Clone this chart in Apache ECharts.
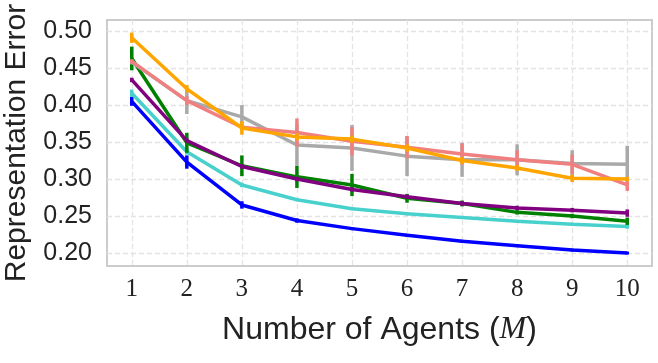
<!DOCTYPE html>
<html>
<head>
<meta charset="utf-8">
<script src="https://cdn.jsdelivr.net/npm/echarts@6/dist/echarts.min.js"></script>
<style>
html,body{margin:0;padding:0;background:#fff;}
#chart{width:658px;height:363px;}
</style>
</head>
<body>
<div id="chart"></div>
<script>
// ---- data ----
const agents = [1, 2, 3, 4, 5, 6, 7, 8, 9, 10];
const xTicks = [1, 2, 3, 4, 5, 6, 7, 8, 9, 10];
const yTicks = [0.20, 0.25, 0.30, 0.35, 0.40, 0.45, 0.50];

const blueVals   = [0.405, 0.323, 0.265, 0.244, 0.233, 0.224, 0.216, 0.210, 0.204, 0.200];
const blueErr    = [0.006, 0.009, 0.005, 0.003, 0.002, 0.002, 0.002, 0.002, 0.002, 0.002];
const turqVals   = [0.416, 0.337, 0.292, 0.272, 0.260, 0.253, 0.248, 0.243, 0.239, 0.236];
const turqErr    = [0.005, 0.004, 0.003, 0.002, 0.002, 0.002, 0.002, 0.002, 0.002, 0.003];
const greenVals  = [0.463, 0.349, 0.318, 0.303, 0.292, 0.274, 0.267, 0.255, 0.250, 0.243];
const greenErr   = [0.016, 0.0135, 0.014, 0.015, 0.015, 0.006, 0.004, 0.003, 0.003, 0.005];
const purpleVals = [0.434, 0.352, 0.317, 0.300, 0.286, 0.276, 0.267, 0.261, 0.258, 0.254];
const purpleErr  = [0.003, 0.003, 0.003, 0.003, 0.003, 0.003, 0.003, 0.003, 0.003, 0.005];
const grayVals   = [0.458, 0.406, 0.384, 0.346, 0.342, 0.331, 0.326, 0.326, 0.321, 0.320];
const grayErr    = [0.003, 0.018, 0.016, 0.028, 0.031, 0.027, 0.023, 0.021, 0.018, 0.025];
const coralVals  = [0.459, 0.406, 0.370, 0.363, 0.351, 0.343, 0.334, 0.326, 0.320, 0.292];
const coralErr   = [0.003, 0.006, 0.004, 0.019, 0.019, 0.015, 0.014, 0.013, 0.013, 0.008];
const orangeVals = [0.491, 0.422, 0.369, 0.357, 0.354, 0.342, 0.325, 0.315, 0.301, 0.300];
const orangeErr  = [0.007, 0.005, 0.009, 0.005, 0.005, 0.005, 0.005, 0.004, 0.005, 0.003];

const seriesDefs = [
  {name: 'blue',   color: '#0000FF', vals: blueVals,   err: blueErr},
  {name: 'turq',   color: '#48D1CC', vals: turqVals,   err: turqErr},
  {name: 'green',  color: '#008000', vals: greenVals,  err: greenErr},
  {name: 'purple', color: '#800080', vals: purpleVals, err: purpleErr},
  {name: 'gray',   color: '#A9A9A9', vals: grayVals,   err: grayErr},
  {name: 'coral',  color: '#F08080', vals: coralVals,  err: coralErr},
  {name: 'orange', color: '#FFA500', vals: orangeVals, err: orangeErr}
];

const series = [];
seriesDefs.forEach((s, i) => {
  const z = 2 + i * 2;
  series.push({
    type: 'custom',
    name: s.name + '_err',
    z: z,
    silent: true,
    data: agents.map((a, j) => [a, s.vals[j] - s.err[j], s.vals[j] + s.err[j]]),
    renderItem: function (params, api) {
      const p1 = api.coord([api.value(0), api.value(1)]);
      const p2 = api.coord([api.value(0), api.value(2)]);
      return {
        type: 'line',
        shape: {x1: p1[0], y1: p1[1], x2: p2[0], y2: p2[1]},
        style: {stroke: s.color, lineWidth: 3.5}
      };
    },
    encode: {x: 0, y: [1, 2]}
  });
  series.push({
    type: 'line',
    name: s.name,
    z: z + 1,
    data: agents.map((a, j) => [a, s.vals[j]]),
    showSymbol: false,
    symbol: 'none',
    lineStyle: {color: s.color, width: 3.5},
    itemStyle: {color: s.color},
    animation: false
  });
});

const chart = echarts.init(document.getElementById('chart'), null, {renderer: 'canvas'});
chart.setOption({
  animation: false,
  backgroundColor: '#fff',
  grid: {left: 107, top: 20, right: 6, bottom: 97, containLabel: false, outerBoundsMode: 'none', show: true, borderColor: '#cccccc', borderWidth: 2, backgroundColor: 'transparent'},
  xAxis: {
    type: 'value',
    min: 0.55, max: 10.45,
    axisLine: {show: false},
    axisTick: {show: false, customValues: xTicks},
    splitLine: {show: true, lineStyle: {color: '#e3e3e3', type: [5, 3], width: 1.3}},
    axisLabel: {customValues: xTicks, fontFamily: 'Liberation Serif', fontSize: 25, color: '#222', margin: 11},
    name: 'Number of Agents ({i|M})',
    nameLocation: 'middle',
    nameGap: 48,
    nameTextStyle: {
      fontFamily: 'Liberation Sans', fontSize: 32, color: '#222',
      rich: {i: {fontFamily: 'Liberation Serif', fontStyle: 'italic', fontSize: 32, color: '#222'}}
    }
  },
  yAxis: {
    type: 'value',
    min: 0.1825, max: 0.515,
    axisLine: {show: false},
    axisTick: {show: false, customValues: yTicks},
    splitLine: {show: true, lineStyle: {color: '#e3e3e3', type: [5, 3], width: 1.3}},
    axisLabel: {customValues: yTicks, formatter: v => v.toFixed(2), fontFamily: 'Liberation Sans', fontSize: 25, color: '#222', margin: 15},
    name: 'Representation Error',
    nameLocation: 'middle',
    nameGap: 75,
    nameTextStyle: {fontFamily: 'Liberation Sans', fontSize: 30, color: '#222'}
  },
  series: series
});
</script>
</body>
</html>
